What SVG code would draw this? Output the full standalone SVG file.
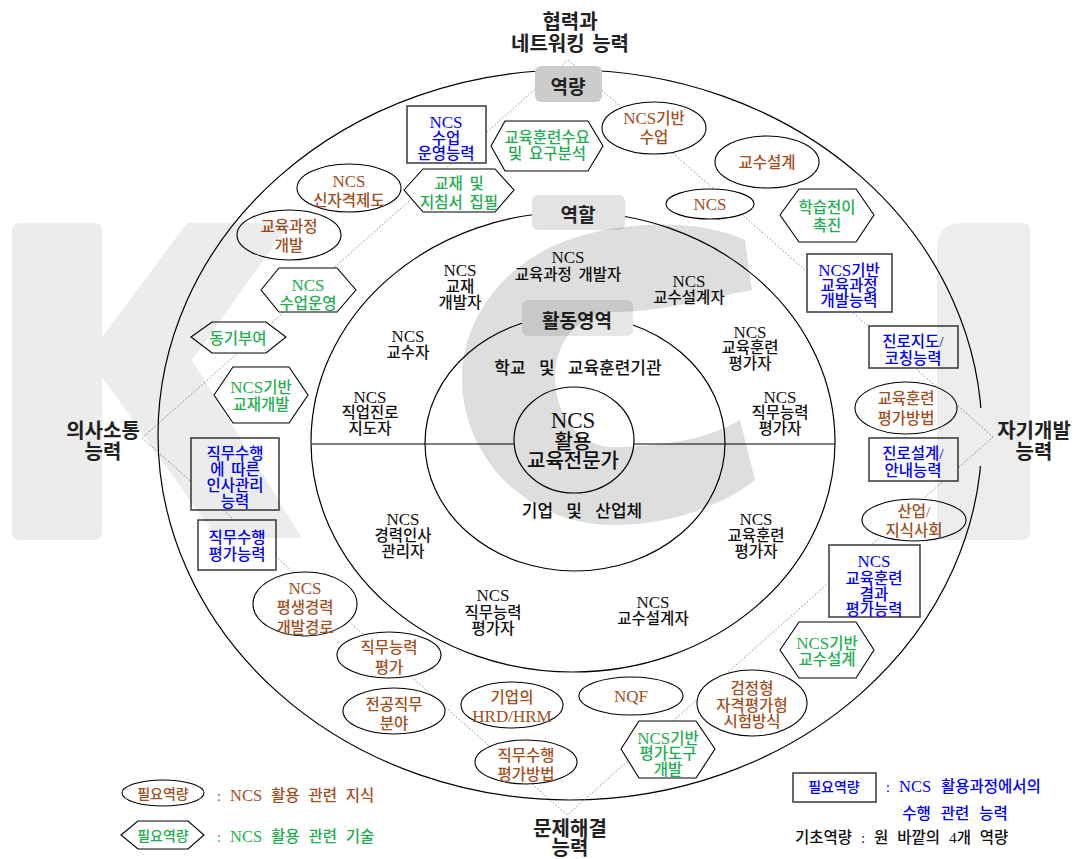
<svg xmlns="http://www.w3.org/2000/svg" width="1085" height="859" viewBox="0 0 1085 859">
<style>
.c{fill:none;stroke:#000;stroke-width:1.2}
.cn{fill:none;stroke:#8a8a8a;stroke-width:1;stroke-dasharray:1.5 2}
.el,.hx{fill:#fff;stroke:#000;stroke-width:1.1}
.bx{fill:#fff;stroke:#444;stroke-width:1.6}
text{font-family:"Liberation Serif","Noto Sans CJK KR",serif;font-size:15.5px;font-weight:500;text-anchor:middle;dominant-baseline:central;word-spacing:3px}
.n{font-size:17px}
.k{fill:#a0501e}.g{fill:#1fae4f}.b{fill:#0000ff}.r{fill:#111}
.lab{font-family:"Noto Sans CJK KR",sans-serif;font-size:20px;fill:#222;font-weight:600}
.hd{font-family:"Noto Sans CJK KR",sans-serif;font-size:19px;font-weight:bold;fill:#222}
.wm{fill:#000}
</style>
<rect x="0" y="0" width="1085" height="859" fill="#fff"/>

<g id="rings">
<ellipse class="c" cx="570" cy="435" rx="412" ry="365"/>
<ellipse class="c" cx="573" cy="442" rx="262" ry="230"/>
<ellipse class="c" cx="575" cy="443" rx="150" ry="128"/>
<ellipse class="c" cx="574" cy="440" rx="60" ry="53"/>
<line class="c" x1="312" y1="444" x2="514" y2="444"/>
<line class="c" x1="634" y1="444" x2="835" y2="444"/>
<rect x="974" y="408" width="16" height="58" fill="#fff"/>
</g>

<g id="connectors">
<path class="cn" d="M568,60 L993,437 L567,815 L142,438 Z"/>
</g>

<g id="headers">
<g id="h-yeokryang"><rect x="535" y="66" width="67" height="36" rx="6" fill="#cccccc"/><text class="hd" x="568" y="85">역량</text></g>
<g id="h-yeokhal"><rect x="532" y="195" width="93" height="35" rx="6" fill="#e3e3e3"/><text class="hd" x="578" y="213">역할</text></g>
<g id="h-hwaldong"><rect x="522" y="300" width="111" height="36" rx="6" fill="#e6e6e6"/><text class="hd" x="577" y="319">활동영역</text></g>
</g>

<g id="roles">
<text class="r"><tspan class="n" x="568" y="257">NCS</tspan><tspan x="568" y="274">교육과정 개발자</tspan></text>
<text class="r"><tspan class="n" x="460" y="270">NCS</tspan><tspan x="460" y="286">교재</tspan><tspan x="460" y="302">개발자</tspan></text>
<text class="r"><tspan class="n" x="689" y="281">NCS</tspan><tspan x="689" y="297">교수설계자</tspan></text>
<text class="r"><tspan class="n" x="408" y="336">NCS</tspan><tspan x="408" y="352">교수자</tspan></text>
<text class="r"><tspan class="n" x="750" y="332">NCS</tspan><tspan x="750" y="347">교육훈련</tspan><tspan x="750" y="363">평가자</tspan></text>
<text class="r"><tspan class="n" x="370" y="397">NCS</tspan><tspan x="370" y="412">직업진로</tspan><tspan x="370" y="428">지도자</tspan></text>
<text class="r"><tspan class="n" x="780" y="397">NCS</tspan><tspan x="780" y="412">직무능력</tspan><tspan x="780" y="428">평가자</tspan></text>
<text class="r" x="578" y="368" style="font-size:17px;word-spacing:9px">학교 및 교육훈련기관</text>
<text class="r" x="582" y="511" style="font-size:17px;word-spacing:9px">기업 및 산업체</text>
<text class="r" style="font-size:20px"><tspan x="573" y="420" style="font-size:23px">NCS</tspan><tspan x="573" y="442">활용</tspan><tspan x="573" y="461">교육전문가</tspan></text>
<text class="r"><tspan class="n" x="403" y="519">NCS</tspan><tspan x="403" y="535">경력인사</tspan><tspan x="403" y="551">관리자</tspan></text>
<text class="r"><tspan class="n" x="756" y="519">NCS</tspan><tspan x="756" y="535">교육훈련</tspan><tspan x="756" y="551">평가자</tspan></text>
<text class="r"><tspan class="n" x="493" y="595">NCS</tspan><tspan x="493" y="612">직무능력</tspan><tspan x="493" y="628">평가자</tspan></text>
<text class="r"><tspan class="n" x="653" y="602">NCS</tspan><tspan x="653" y="618">교수설계자</tspan></text>
</g>

<g id="box-b1"><rect class="bx" x="407" y="106" width="79" height="57"/><text class="b"><tspan class="n" x="446" y="122">NCS</tspan><tspan x="446" y="138">수업</tspan><tspan x="446" y="153">운영능력</tspan></text></g>
<g id="box-b2"><rect class="bx" x="807" y="254" width="85" height="58"/><text class="b"><tspan x="849" y="270"><tspan class="n">NCS</tspan>기반</tspan><tspan x="849" y="285">교육과정</tspan><tspan x="849" y="300">개발능력</tspan></text></g>
<g id="box-b3"><rect class="bx" x="869" y="326" width="89" height="42"/><text class="b"><tspan x="913" y="341">진로지도/</tspan><tspan x="913" y="358">코칭능력</tspan></text></g>
<g id="box-b4"><rect class="bx" x="869" y="438" width="89" height="43"/><text class="b"><tspan x="913" y="453">진로설계/</tspan><tspan x="913" y="470">안내능력</tspan></text></g>
<g id="box-b5"><rect class="bx" x="829" y="545" width="91" height="72"/><text class="b"><tspan class="n" x="874" y="561">NCS</tspan><tspan x="874" y="578">교육훈련</tspan><tspan x="874" y="594">결과</tspan><tspan x="874" y="609">평가능력</tspan></text></g>
<g id="box-b6"><rect class="bx" x="191" y="438" width="88" height="72"/><text class="b"><tspan x="235" y="453">직무수행</tspan><tspan x="235" y="469">에 따른</tspan><tspan x="235" y="485">인사관리</tspan><tspan x="235" y="501">능력</tspan></text></g>
<g id="box-b7"><rect class="bx" x="198" y="520" width="78" height="50"/><text class="b"><tspan x="237" y="537">직무수행</tspan><tspan x="237" y="554">평가능력</tspan></text></g>

<g id="el-e1"><ellipse class="el" cx="654" cy="128" rx="52" ry="26"/><text class="k"><tspan x="654" y="118"><tspan class="n">NCS</tspan>기반</tspan><tspan x="654" y="137">수업</tspan></text></g>
<g id="el-e2"><ellipse class="el" cx="767" cy="162" rx="52" ry="26"/><text class="k" x="767" y="162">교수설계</text></g>
<g id="el-e3"><ellipse class="el" cx="710" cy="204" rx="44" ry="15"/><text class="k n" x="710" y="204">NCS</text></g>
<g id="el-e4"><ellipse class="el" cx="349" cy="188" rx="52" ry="24"/><text class="k"><tspan class="n" x="349" y="181">NCS</tspan><tspan x="349" y="200">신자격제도</tspan></text></g>
<g id="el-e5"><ellipse class="el" cx="289" cy="235" rx="52" ry="25"/><text class="k"><tspan x="289" y="226">교육과정</tspan><tspan x="289" y="245">개발</tspan></text></g>
<g id="el-e6"><ellipse class="el" cx="906" cy="408" rx="51" ry="26"/><text class="k"><tspan x="906" y="398">교육훈련</tspan><tspan x="906" y="418">평가방법</tspan></text></g>
<g id="el-e7"><ellipse class="el" cx="914" cy="520" rx="52" ry="21"/><text class="k"><tspan x="914" y="511">산업/</tspan><tspan x="914" y="530">지식사회</tspan></text></g>
<g id="el-e8"><ellipse class="el" cx="305" cy="604" rx="52" ry="32"/><text class="k"><tspan class="n" x="305" y="588">NCS</tspan><tspan x="305" y="607">평생경력</tspan><tspan x="305" y="627">개발경로</tspan></text></g>
<g id="el-e9"><ellipse class="el" cx="389" cy="655" rx="52" ry="23"/><text class="k"><tspan x="389" y="647">직무능력</tspan><tspan x="389" y="667">평가</tspan></text></g>
<g id="el-e10"><ellipse class="el" cx="394" cy="711" rx="51" ry="23"/><text class="k"><tspan x="394" y="704">전공직무</tspan><tspan x="394" y="723">분야</tspan></text></g>
<g id="el-e11"><ellipse class="el" cx="512" cy="705" rx="51" ry="23"/><text class="k"><tspan x="512" y="697">기업의</tspan><tspan class="n" x="512" y="716">HRD/HRM</tspan></text></g>
<g id="el-e12"><ellipse class="el" cx="631" cy="696" rx="52" ry="19"/><text class="k n" x="631" y="696">NQF</text></g>
<g id="el-e13"><ellipse class="el" cx="526" cy="762" rx="51" ry="22"/><text class="k"><tspan x="526" y="755">직무수행</tspan><tspan x="526" y="774">평가방법</tspan></text></g>
<g id="el-e14"><ellipse class="el" cx="752" cy="703" rx="55" ry="33"/><text class="k"><tspan x="752" y="688">검정형</tspan><tspan x="752" y="705">자격평가형</tspan><tspan x="752" y="721">시험방식</tspan></text></g>

<g id="hx-h1"><polygon class="hx" points="491,146 505,121 588,121 603,146 588,171 505,171"/><text class="g"><tspan x="547" y="137">교육훈련수요</tspan><tspan x="547" y="153">및 요구분석</tspan></text></g>
<g id="hx-h2"><polygon class="hx" points="404,190 423,169 495,169 514,190 495,212 423,212"/><text class="g"><tspan x="459" y="183">교재 및</tspan><tspan x="459" y="202">지침서 집필</tspan></text></g>
<g id="hx-h3"><polygon class="hx" points="780,215 799,189 856,189 874,215 856,242 799,242"/><text class="g"><tspan x="827" y="207">학습전이</tspan><tspan x="827" y="225">촉진</tspan></text></g>
<g id="hx-h4"><polygon class="hx" points="261,290 279,268 337,268 356,290 337,312 279,312"/><text class="g"><tspan class="n" x="308" y="285">NCS</tspan><tspan x="308" y="303">수업운영</tspan></text></g>
<g id="hx-h5"><polygon class="hx" points="191,337 212,322 266,322 286,337 266,353 212,353"/><text class="g" x="238" y="338">동기부여</text></g>
<g id="hx-h6"><polygon class="hx" points="214,395 233,367 289,367 308,395 289,423 233,423"/><text class="g"><tspan x="261" y="387"><tspan class="n">NCS</tspan>기반</tspan><tspan x="261" y="404">교재개발</tspan></text></g>
<g id="hx-h7"><polygon class="hx" points="780,650 799,622 856,622 874,650 856,678 799,678"/><text class="g"><tspan x="827" y="643"><tspan class="n">NCS</tspan>기반</tspan><tspan x="827" y="659">교수설계</tspan></text></g>
<g id="hx-h8"><polygon class="hx" points="621,749 639,721 696,721 715,749 696,778 639,778"/><text class="g"><tspan x="668" y="738"><tspan class="n">NCS</tspan>기반</tspan><tspan x="668" y="753">평가도구</tspan><tspan x="668" y="769">개발</tspan></text></g>

<g id="corner-labels">
<text class="lab"><tspan x="570" y="20">협력과</tspan><tspan x="570" y="42">네트워킹 능력</tspan></text>
<text class="lab"><tspan x="103" y="429">의사소통</tspan><tspan x="103" y="450">능력</tspan></text>
<text class="lab"><tspan x="1034" y="429">자기개발</tspan><tspan x="1034" y="450">능력</tspan></text>
<text class="lab"><tspan x="570" y="827">문제해결</tspan><tspan x="570" y="846">능력</tspan></text>
</g>

<g id="legend">
<g id="lg-knowledge"><ellipse class="el" cx="163" cy="793" rx="41" ry="13"/><text class="k" x="163" y="794" style="font-size:14px">필요역량</text><text class="k" x="219" y="795">:</text><text class="k" x="230" y="795" style="text-anchor:start;word-spacing:5px"><tspan style="font-size:16.5px">NCS</tspan> 활용 관련 지식</text></g>
<g id="lg-skill"><polygon class="hx" points="121,835 138,821 188,821 204,835 188,849 138,849"/><text class="g" x="163" y="836" style="font-size:14px">필요역량</text><text class="g" x="219" y="836">:</text><text class="g" x="230" y="836" style="text-anchor:start;word-spacing:5px"><tspan style="font-size:16.5px">NCS</tspan> 활용 관련 기술</text></g>
<g id="lg-ability"><rect class="bx" x="793" y="773" width="83" height="29"/><text class="b" x="834" y="787" style="font-size:14px">필요역량</text><text class="b" x="888" y="786">:</text><text class="b" x="899" y="786" style="text-anchor:start;word-spacing:6px"><tspan style="font-size:16.5px">NCS</tspan> 활용과정에서의</text><text class="b" x="955" y="813" style="word-spacing:6px">수행 관련 능력</text></g>
<text class="r" x="795" y="837" style="text-anchor:start;word-spacing:5px">기초역량 : 원 바깥의 4개 역량</text>
</g>

<g id="watermark">
<path class="wm" fill-opacity="0.075" d="M20,223 H94 Q102,223 102,231 V532 Q102,540 94,540 H20 Q12,540 12,532 V231 Q12,223 20,223 Z"/>
<path class="wm" fill-opacity="0.075" d="M102,337 L187,223 L290,223 L192,360 L302,538 L217,538 L102,377 Z"/>
<path class="wm" fill-opacity="0.13" d="M745,240 C690,215 600,222 545,250 C490,280 462,330 462,378 C462,460 530,525 612,525 C680,525 730,500 755,480 L740,420 C710,438 665,447 612,447 C580,447 555,415 555,378 C555,340 580,312 615,312 C660,312 700,300 752,290 Z"/>
<path class="wm" fill-opacity="0.07" d="M962,223 H1022 Q1030,223 1030,231 V532 Q1030,540 1022,540 H945 Q937,540 937,532 V248 Q937,223 962,223 Z"/>
</g>
</svg>
